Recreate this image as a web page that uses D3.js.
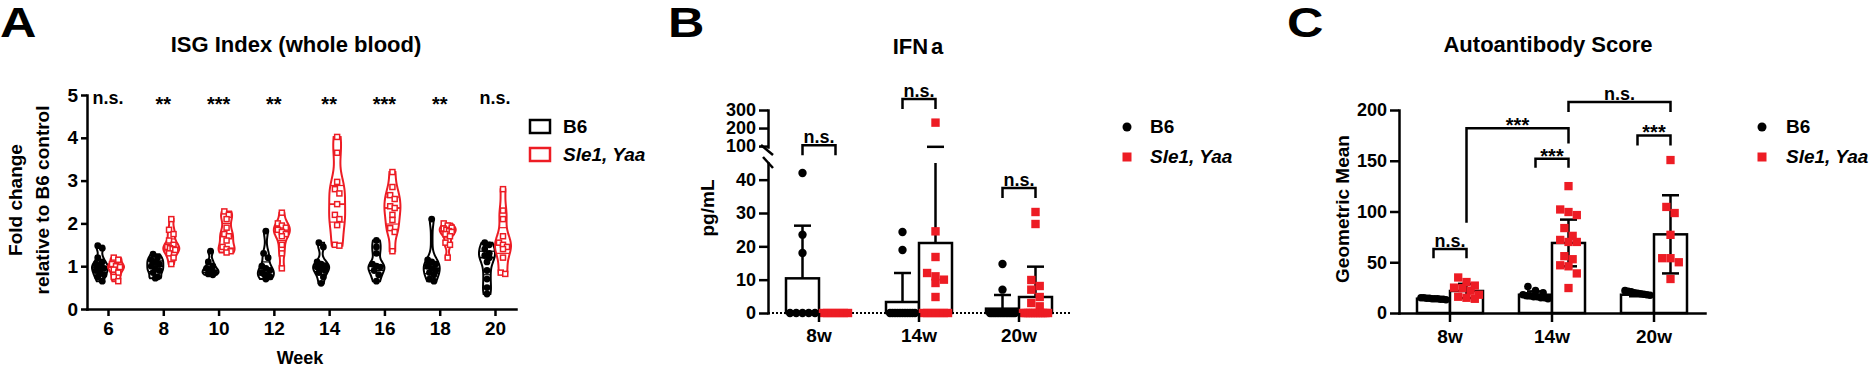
<!DOCTYPE html>
<html><head><meta charset="utf-8">
<script src="https://cdn.jsdelivr.net/npm/d3@7"></script>
<style>
body{margin:0;background:#fff}
svg{display:block}
text{font-family:"Liberation Sans",Arial,Helvetica,sans-serif;fill:#000}
</style>
</head><body>
<svg id="chart" width="1870" height="367"></svg>
<script>
// ---------------- DATA ----------------
// Panel A: ISG index
const weeks = [6, 8, 10, 12, 14, 16, 18, 20];
const isgSig = ["n.s.", "**", "***", "**", "**", "***", "**", "n.s."];
const isgB6 = [
  [1.48, 1.42, 1.2, 1.1, 1.05, 1.0, 0.98, 0.95, 0.9, 0.85, 0.8, 0.75, 0.65],
  [1.28, 1.2, 1.15, 1.1, 1.05, 1.0, 0.95, 0.9, 0.85, 0.75, 0.72],
  [1.35, 1.1, 1.0, 0.95, 0.9, 0.88, 0.85, 0.82, 0.8],
  [1.82, 1.3, 1.2, 1.0, 0.95, 0.9, 0.85, 0.8, 0.78, 0.75, 0.7],
  [1.55, 1.45, 1.1, 1.05, 1.0, 0.98, 0.95, 0.9, 0.85, 0.75, 0.6],
  [1.6, 1.45, 1.3, 1.05, 1.0, 0.98, 0.9, 0.8, 0.65],
  [2.1, 1.15, 1.1, 1.05, 1.0, 0.95, 0.9, 0.85, 0.8, 0.7, 0.65],
  [1.55, 1.5, 1.4, 1.3, 1.25, 1.2, 1.1, 0.9, 0.7, 0.5, 0.35]
];
const isgSle = [
  [1.2, 1.15, 1.05, 1.0, 0.98, 0.92, 0.85, 0.75, 0.65],
  [2.1, 1.85, 1.75, 1.6, 1.5, 1.45, 1.42, 1.4, 1.38, 1.3, 1.2, 1.05],
  [2.28, 2.2, 2.1, 1.9, 1.75, 1.7, 1.6, 1.45, 1.4, 1.35, 1.32],
  [2.25, 2.0, 1.95, 1.9, 1.85, 1.8, 1.75, 1.7, 1.5, 1.3, 0.95],
  [4.02, 3.65, 2.97, 2.8, 2.7, 2.45, 2.2, 2.1, 1.96, 1.5, 1.48],
  [3.2, 2.85, 2.66, 2.57, 2.4, 2.36, 2.2, 2.08, 1.89, 1.8, 1.35],
  [2.0, 1.95, 1.9, 1.88, 1.85, 1.82, 1.8, 1.75, 1.7, 1.55, 1.5, 1.2],
  [2.8, 2.3, 2.1, 1.7, 1.55, 1.5, 1.45, 1.4, 1.2, 0.85, 0.82]
];
const isgYTicks = [0, 1, 2, 3, 4, 5];

// Panel B: IFN-a (pg/mL)
const ifnGroups = ["8w", "14w", "20w"];
const ifnB6 = [
  [42, 23.5, 18, 0, 0, 0, 0, 0],
  [24.3, 18.9, 0, 0, 0, 0, 0, 0, 0, 0, 0, 0, 0],
  [14.7, 7, 0, 0, 0, 0, 0, 0, 0, 0, 0, 0, 0, 0, 0, 0, 0]
];
const ifnSle = [
  [0, 0, 0, 0, 0, 0, 0],
  [230, 24.5, 16.8, 11, 10, 9, 12, 4.8, 0, 0, 0, 0, 0, 0, 0],
  [30.3, 26.7, 9.9, 8.1, 7, 4.8, 3, 2, 0, 0, 0, 0, 0, 0, 0, 0, 0, 0, 0]
];
const ifnB6Mean = [10.4, 3.3, 1.3];
const ifnB6SD = [15.8, 8.7, 4.1];
const ifnSleMean = [0, 21, 4.8];
const ifnSleSD = [0, 75, 9.1];
const ifnSig = ["n.s.", "n.s.", "n.s."];
const ifnSigLevel = [105, 361, 37.5];
const ifnLowTicks = [0, 10, 20, 30, 40];
const ifnHighTicks = [100, 200, 300];

// Panel C: Autoantibody score
const aabGroups = ["8w", "14w", "20w"];
const aabB6 = [
  [15, 15, 14.5, 14.5, 14, 14, 14, 13.5, 13.5, 13],
  [26, 22, 20, 18, 17, 17, 16, 16, 15, 15, 14],
  [22, 21.5, 21, 20, 19.5, 19, 18.5, 18, 17.5]
];
const aabSle = [
  [35, 30.5, 27, 25, 24.5, 22, 18, 16, 15, 14],
  [125, 99.5, 102, 96.5, 83.7, 76, 72, 70, 70, 56, 53, 46, 47, 39, 24.6],
  [150.7, 104.5, 98.5, 77, 54, 54, 50, 33.5]
];
const aabB6Mean = [14.1, 18, 18];
const aabB6SD = [0.7, 3.3, 1.5];
const aabSleMean = [21.7, 69, 77.5];
const aabSleSD = [7, 23, 38.5];
const aabYTicks = [0, 50, 100, 150, 200];
// comparisons: [groupA, seriesA, groupB, seriesB, bracket level, leg end A, leg end B, label]
const aabCompare = [
  ["8w", 0, "8w", 1, 63, 54, 54, "n.s."],
  ["14w", 0, "14w", 1, 152, 143, 143, "***"],
  ["8w", 1, "14w", 1, 182, 89, 167, "***"],
  ["14w", 1, "20w", 1, 208, 198, 198, "n.s."],
  ["20w", 0, "20w", 1, 175, 165, 165, "***"]
];

const seriesNames = ["B6", "Sle1, Yaa"];

// ---------------- HELPERS ----------------
const RED = "#ED1C24";
const svg = d3.select("#chart");
const AX = 2.5;

function styleAxis(g, fs) {
  g.selectAll("path.domain").attr("stroke", "#000").attr("stroke-width", AX).attr("stroke-linecap", "square");
  g.selectAll(".tick line").attr("stroke", "#000").attr("stroke-width", AX);
  g.selectAll("text").attr("fill", "#000").style("font-size", fs + "px").style("font-weight", "bold")
    .style("font-family", '"Liberation Sans",Arial,sans-serif');
}

// spread overlapping points horizontally (GraphPad-like scatter)
function spread(vals, yFn, cx, d, maxHalf) {
  const pts = vals.map(v => ({ v, y: yFn(v) })).sort((a, b) => a.y - b.y);
  const clusters = [];
  let cur = null;
  for (const p of pts) {
    if (cur && Math.abs(p.y - cur[0].y) < d) cur.push(p);
    else { cur = [p]; clusters.push(cur); }
  }
  clusters.forEach(c => {
    const n = c.length;
    const sp = n > 1 ? Math.min(d, 2 * maxHalf / (n - 1)) : 0;
    c.forEach((p, i) => { p.x = cx + (i - (n - 1) / 2) * sp; });
  });
  return pts;
}

function drawPoints(g, pts, series, r) {
  if (series === 0) {
    g.selectAll(null).data(pts).enter().append("circle")
      .attr("cx", d => d.x).attr("cy", d => d.y).attr("r", r).attr("fill", "#000");
  } else {
    g.selectAll(null).data(pts).enter().append("rect")
      .attr("x", d => d.x - r).attr("y", d => d.y - r).attr("width", 2 * r).attr("height", 2 * r).attr("fill", RED);
  }
}

function txt(x, y, s, fs, opts = {}) {
  const t = svg.append("text").attr("x", x).attr("y", y).text(s)
    .style("font-size", fs + "px").style("font-weight", opts.weight || "bold")
    .attr("text-anchor", opts.anchor || "middle");
  if (opts.italic) t.style("font-style", "italic");
  if (opts.rotate) t.attr("transform", `rotate(-90,${x},${y})`);
  return t;
}

function bracket(x1, x2, yTop, yL1, yL2, label) {
  svg.append("path")
    .attr("d", `M${x1},${yL1}V${yTop}H${x2}V${yL2}`)
    .attr("fill", "none").attr("stroke", "#000").attr("stroke-width", AX);
  if (label === "n.s.") txt((x1 + x2) / 2, yTop - 2, label, 18);
  else txt((x1 + x2) / 2, yTop + 4, label, 20);
}

// panel letters
[["A", 0], ["B", 668], ["C", 1287]].forEach(([l, x]) => {
  svg.append("text").attr("x", 0).attr("y", 0).text(l)
    .attr("transform", `translate(${x},37) scale(1.2,1)`)
    .style("font-size", "42px").style("font-weight", "bold");
});

// ---------------- PANEL A ----------------
{
  const xA = d3.scaleLinear().domain([5.24, 20.76]).range([87, 516]);
  const yA = d3.scaleLinear().domain([0, 5]).range([309, 95]);

  txt(296, 52, "ISG Index (whole blood)", 22);

  const violG = svg.append("g");
  weeks.forEach((w, i) => {
    [isgB6[i], isgSle[i]].forEach((vals, s) => {
      const cx = xA(w) + (s === 0 ? -8 : 8);
      const col = s === 0 ? "#000" : RED;
      const n = vals.length;
      const sd = d3.deviation(vals);
      const h = Math.max(0.06, 0.55 * 1.06 * sd * Math.pow(n, -0.2));
      const lo = d3.min(vals), hi = d3.max(vals);
      const steps = 40;
      const dens = d3.range(steps + 1).map(k => {
        const v = lo + (hi - lo) * k / steps;
        let sum = 0;
        vals.forEach(x => { const z = (v - x) / h; sum += Math.exp(-0.5 * z * z); });
        return { v, d: sum };
      });
      const maxD = d3.max(dens, d => d.d);
      const wScale = d3.scaleLinear().domain([0, maxD]).range([0.8, 8]);
      const area = d3.area().y(d => yA(d.v)).x0(d => cx - wScale(d.d)).x1(d => cx + wScale(d.d)).curve(d3.curveCatmullRom);
      violG.append("path").attr("d", area(dens) + "Z").attr("fill", "#fff").attr("stroke", col).attr("stroke-width", 2);
      const sorted = vals.slice().sort(d3.ascending);
      [0.25, 0.5, 0.75].forEach(q => {
        const qv = d3.quantile(sorted, q);
        let sum = 0; vals.forEach(x => { const z = (qv - x) / h; sum += Math.exp(-0.5 * z * z); });
        const hw = wScale(sum);
        violG.append("line").attr("x1", cx - hw).attr("x2", cx + hw).attr("y1", yA(qv)).attr("y2", yA(qv))
          .attr("stroke", col).attr("stroke-width", q === 0.5 ? 1.8 : 1.2);
      });
      const pts = spread(vals, yA, cx, 4.5, 4);
      if (s === 0) {
        violG.selectAll(null).data(pts).enter().append("circle")
          .attr("cx", d => d.x).attr("cy", d => d.y).attr("r", 3.4).attr("fill", "#000");
      } else {
        violG.selectAll(null).data(pts).enter().append("rect")
          .attr("x", d => d.x - 2.5).attr("y", d => d.y - 2.5).attr("width", 5).attr("height", 5)
          .attr("fill", "#fff").attr("stroke", RED).attr("stroke-width", 1.5);
      }
    });
    const lab = isgSig[i];
    if (lab === "n.s.") txt(xA(w), 104, lab, 18);
    else txt(xA(w), 111, lab, 20);
  });

  const gy = svg.append("g").attr("transform", "translate(87,0)")
    .call(d3.axisLeft(yA).tickValues(isgYTicks).tickSize(6).tickSizeOuter(0).tickPadding(3).tickFormat(d3.format("d")));
  styleAxis(gy, 19);
  const gx = svg.append("g").attr("transform", "translate(0,309)")
    .call(d3.axisBottom(xA).tickValues(weeks).tickSize(7).tickSizeOuter(0).tickFormat(d3.format("d")));
  styleAxis(gx, 19);
  gx.selectAll("text").attr("y", 26).attr("dy", null);

  txt(22, 200, "Fold change", 19, { rotate: true });
  txt(49, 200, "relative to B6 control", 19, { rotate: true });
  txt(300, 364, "Week", 18);

  // legend
  [0, 1].forEach(s => {
    const y = s === 0 ? 120 : 148;
    svg.append("rect").attr("x", 530).attr("y", y).attr("width", 20).attr("height", 13)
      .attr("fill", "none").attr("stroke", s === 0 ? "#000" : RED).attr("stroke-width", 2.5);
    txt(563, y + 13, seriesNames[s], 19, { anchor: "start", italic: s === 1 });
  });
}

// ---------------- PANEL B ----------------
{
  const xB = d3.scaleBand().domain(ifnGroups).range([769, 1069]);
  const yLow = d3.scaleLinear().domain([0, 45]).range([313, 163]);
  const yHigh = d3.scaleLinear().domain([95, 300]).range([147, 110]);
  const yB = v => (v <= 45 ? yLow(v) : yHigh(Math.max(v, 95)));
  const bw = 33;

  svg.append("text").attr("x", 918).attr("y", 54).attr("text-anchor", "middle")
    .style("font-size", "22px").style("font-weight", "bold")
    .call(t => { t.append("tspan").text("IFN"); t.append("tspan").attr("dx", 3).text("a"); });

  // x baseline (dotted)
  svg.append("line").attr("x1", 768).attr("x2", 1071).attr("y1", 313).attr("y2", 313)
    .attr("stroke", "#000").attr("stroke-width", 2).attr("stroke-dasharray", "2,2");

  const means = [ifnB6Mean, ifnSleMean], sds = [ifnB6SD, ifnSleSD], pts = [ifnB6, ifnSle];
  const barG = svg.append("g");
  ifnGroups.forEach((grp, i) => {
    const c = xB(grp) + xB.bandwidth() / 2;
    [0, 1].forEach(s => {
      const x0 = s === 0 ? c - bw : c;
      const m = means[s][i];
      if (m > 0) {
        barG.append("rect").attr("x", x0).attr("y", yB(m)).attr("width", bw).attr("height", 313 - yB(m))
          .attr("fill", "#fff").attr("stroke", "#000").attr("stroke-width", AX);
      }
      const top = m + sds[s][i];
      const cx = x0 + bw / 2;
      if (sds[s][i] > 0) {
        const ytopLow = yLow(Math.min(top, 45));
        barG.append("line").attr("x1", cx).attr("x2", cx).attr("y1", yB(m)).attr("y2", ytopLow)
          .attr("stroke", "#000").attr("stroke-width", AX);
        const capY = top > 45 ? yHigh(Math.max(top, 95)) : yLow(top);
        if (top > 95) barG.append("line").attr("x1", cx).attr("x2", cx).attr("y1", yHigh(95)).attr("y2", capY)
          .attr("stroke", "#000").attr("stroke-width", AX);
        barG.append("line").attr("x1", cx - 8.5).attr("x2", cx + 8.5).attr("y1", capY).attr("y2", capY)
          .attr("stroke", "#000").attr("stroke-width", AX);
      }
    });
  });
  ifnGroups.forEach((grp, i) => {
    const c = xB(grp) + xB.bandwidth() / 2;
    [0, 1].forEach(s => {
      const cx = s === 0 ? c - bw / 2 : c + bw / 2;
      const p = spread(pts[s][i], yB, cx, 8.4, 12.5);
      drawPoints(barG, p, s, 4.2);
    });
    const yTop = yB(ifnSigLevel[i]);
    bracket(c - bw / 2, c + bw / 2, yTop, yTop + 10, yTop + 10, ifnSig[i]);
  });

  const gl = svg.append("g").attr("transform", "translate(768,0)")
    .call(d3.axisLeft(yLow).tickValues(ifnLowTicks).tickSize(9).tickSizeOuter(0).tickPadding(3));
  styleAxis(gl, 18);
  const gh = svg.append("g").attr("transform", "translate(768,0)")
    .call(d3.axisLeft(yHigh).tickValues(ifnHighTicks).tickSize(9).tickSizeOuter(0).tickPadding(3));
  styleAxis(gh, 18);
  // break marks
  svg.append("line").attr("x1", 761).attr("y1", 145).attr("x2", 773).attr("y2", 155).attr("stroke", "#000").attr("stroke-width", AX);
  svg.append("line").attr("x1", 763).attr("y1", 157).attr("x2", 773).attr("y2", 168).attr("stroke", "#000").attr("stroke-width", AX);

  const gx = svg.append("g").attr("transform", "translate(0,313)")
    .call(d3.axisBottom(xB).tickSize(9).tickSizeOuter(0));
  gx.select("path.domain").remove();
  styleAxis(gx, 19);
  gx.selectAll("text").attr("y", 29).attr("dy", null);

  txt(714, 208, "pg/mL", 19, { rotate: true });

  // legend
  svg.append("circle").attr("cx", 1127).attr("cy", 127).attr("r", 4.5).attr("fill", "#000");
  svg.append("rect").attr("x", 1122.5).attr("y", 152.5).attr("width", 9).attr("height", 9).attr("fill", RED);
  txt(1150, 133, seriesNames[0], 19, { anchor: "start" });
  txt(1150, 163, seriesNames[1], 19, { anchor: "start", italic: true });
}

// ---------------- PANEL C ----------------
{
  const xC = d3.scaleBand().domain(aabGroups).range([1399, 1705]);
  const yC = d3.scaleLinear().domain([0, 200]).range([313, 110]);
  const bw = 33;

  txt(1548, 52, "Autoantibody Score", 22);

  const means = [aabB6Mean, aabSleMean], sds = [aabB6SD, aabSleSD], pts = [aabB6, aabSle];
  const g = svg.append("g");
  const cxOf = (grp, s) => xC(grp) + xC.bandwidth() / 2 + (s === 0 ? -bw / 2 : bw / 2);
  aabGroups.forEach((grp, i) => {
    [0, 1].forEach(s => {
      const cx = cxOf(grp, s);
      const m = means[s][i];
      g.append("rect").attr("x", cx - bw / 2).attr("y", yC(m)).attr("width", bw).attr("height", yC(0) - yC(m))
        .attr("fill", "#fff").attr("stroke", "#000").attr("stroke-width", AX);
      const hi = m + sds[s][i], lo = m - sds[s][i];
      g.append("line").attr("x1", cx).attr("x2", cx).attr("y1", yC(lo)).attr("y2", yC(hi))
        .attr("stroke", "#000").attr("stroke-width", AX);
      [hi, lo].forEach(v => g.append("line").attr("x1", cx - 8.5).attr("x2", cx + 8.5)
        .attr("y1", yC(v)).attr("y2", yC(v)).attr("stroke", "#000").attr("stroke-width", AX));
    });
  });
  aabGroups.forEach((grp, i) => {
    [0, 1].forEach(s => {
      const p = spread(pts[s][i], yC, cxOf(grp, s), s === 0 ? 7.6 : 8.3, 12.5);
      drawPoints(g, p, s, s === 0 ? 3.8 : 4.15);
    });
  });

  const gy = svg.append("g").attr("transform", "translate(1399,0)")
    .call(d3.axisLeft(yC).tickValues(aabYTicks).tickSize(9).tickSizeOuter(0).tickPadding(3));
  styleAxis(gy, 18);
  const gx = svg.append("g").attr("transform", "translate(0,313)")
    .call(d3.axisBottom(xC).tickSize(9).tickSizeOuter(0));
  styleAxis(gx, 19);
  gx.selectAll("text").attr("y", 30).attr("dy", null);

  aabCompare.forEach(([ga, sa, gb, sb, lvl, la, lb, lab]) => {
    bracket(cxOf(ga, sa), cxOf(gb, sb), yC(lvl), yC(la), yC(lb), lab);
  });

  txt(1349, 209, "Geometric Mean", 19, { rotate: true });

  svg.append("circle").attr("cx", 1762).attr("cy", 127).attr("r", 4.5).attr("fill", "#000");
  svg.append("rect").attr("x", 1757.5).attr("y", 152.5).attr("width", 9).attr("height", 9).attr("fill", RED);
  txt(1786, 133, seriesNames[0], 19, { anchor: "start" });
  txt(1786, 163, seriesNames[1], 19, { anchor: "start", italic: true });
}
</script>
</body></html>
